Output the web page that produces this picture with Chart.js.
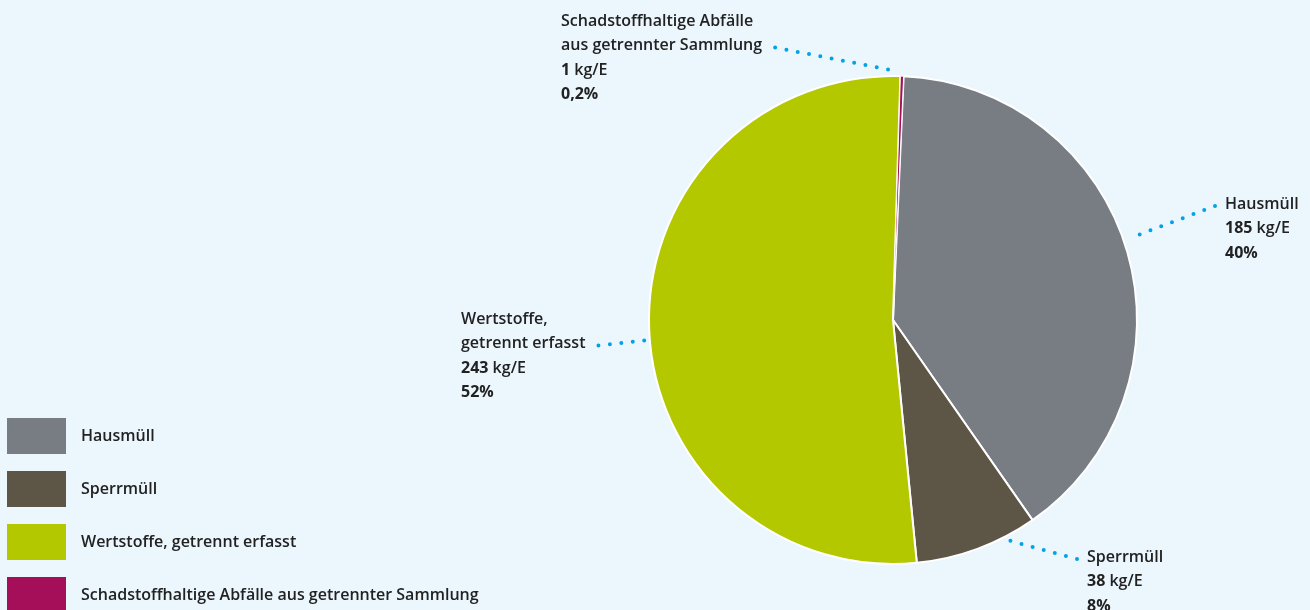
<!DOCTYPE html>
<html>
<head>
<meta charset="utf-8">
<script src="https://cdn.jsdelivr.net/npm/chart.js@4"></script>
<style>
  html, body { margin: 0; padding: 0; background: #ebf6fd; }
  #wrap { width: 1310px; height: 610px; position: relative; overflow: hidden; }
</style>
</head>
<body>
<div id="wrap"><canvas id="chartAbfall" width="1310" height="610"></canvas></div>
<script>
const kategorien = ['Hausmüll', 'Sperrmüll', 'Wertstoffe, getrennt erfasst', 'Schadstoffhaltige Abfälle aus getrennter Sammlung'];
const mengen = [185, 38, 243, 1];           // kg/E
const anteile = ['40%', '8%', '52%', '0,2%'];
const titelZeilen = [
  ['Hausmüll'],
  ['Sperrmüll'],
  ['Wertstoffe,', 'getrennt erfasst'],
  ['Schadstoffhaltige Abfälle', 'aus getrennter Sammlung']
];
const farben = ['#787c83', '#5d5545', '#b4c800', '#a50f5a'];

// Beschriftung: Textposition, Ankerwinkel am Kreis (Grad, 0 = oben) und Zeile der Führungslinie
const beschriftung = [
  { x: 1225, y: 204, winkel: 70.9, abstand: 12, linie: 0, seite: 'links' },
  { x: 1087, y: 557, winkel: 153.3, abstand: 1, linie: 0, seite: 'links' },
  { x: 461, y: 319, winkel: 265.3, abstand: 1, linie: 1, seite: 'rechts' },
  { x: 561, y: 21, winkel: 359.6, abstand: 6, linie: 1, seite: 'rechts' }
];

const ZEILE = 24.5;
const FONT_TEXT = '600 16px "Open Sans"';
const FONT_ZAHL = '700 16px "Open Sans"';
const TEXTFARBE = '#222222';
const PUNKTFARBE = '#00a3e8';

function punktLinie(ctx, x1, y1, x2, y2) {
  ctx.save();
  ctx.strokeStyle = PUNKTFARBE;
  ctx.lineWidth = 4;
  ctx.lineCap = 'round';
  ctx.setLineDash([0, 11.5]);
  ctx.beginPath();
  ctx.moveTo(x1, y1);
  ctx.lineTo(x2, y2);
  ctx.stroke();
  ctx.restore();
}

const beschriftungPlugin = {
  id: 'beschriftung',
  afterDraw(chart) {
    const ctx = chart.ctx;
    const meta = chart.getDatasetMeta(0);
    const arc0 = meta.data[0];
    const cx = arc0.x, cy = arc0.y, r = arc0.outerRadius;

    ctx.save();
    ctx.textBaseline = 'middle';
    ctx.textAlign = 'left';

    beschriftung.forEach((b, i) => {
      const zeilen = titelZeilen[i];
      let y = b.y;
      let linienEnde = null;

      zeilen.forEach((z, k) => {
        ctx.font = FONT_TEXT;
        ctx.fillStyle = TEXTFARBE;
        ctx.fillText(z, b.x, y);
        if (k === b.linie) {
          const w = ctx.measureText(z).width;
          linienEnde = b.seite === 'links' ? [b.x - 10, y + 2] : [b.x + w + 13, y + 2];
        }
        y += ZEILE;
      });

      // Menge
      ctx.font = FONT_ZAHL;
      const zahl = String(mengen[i]);
      ctx.fillText(zahl, b.x, y);
      const zw = ctx.measureText(zahl).width;
      ctx.font = FONT_TEXT;
      ctx.fillText(' kg/E', b.x + zw, y);
      y += ZEILE;

      // Anteil
      ctx.font = FONT_ZAHL;
      ctx.fillText(anteile[i], b.x, y);

      // Führungslinie vom Kreisrand
      const a = (b.winkel - 90) * Math.PI / 180;
      const rr = r + b.abstand;
      const ax = cx + Math.cos(a) * rr;
      const ay = cy + Math.sin(a) * rr;
      punktLinie(ctx, linienEnde[0], linienEnde[1], ax, ay);
    });

    // Legende
    chart.data.labels.forEach((lab, i) => {
      const top = 418 + i * 53;
      ctx.fillStyle = chart.data.datasets[0].backgroundColor[i];
      ctx.fillRect(7, top, 59, 36);
      ctx.font = FONT_TEXT;
      ctx.fillStyle = TEXTFARBE;
      ctx.fillText(lab, 81, top + 18);
    });
    ctx.restore();
  }
};

new Chart(document.getElementById('chartAbfall'), {
  type: 'pie',
  data: {
    labels: kategorien,
    datasets: [{
      data: mengen,
      backgroundColor: farben,
      borderColor: '#ffffff',
      borderWidth: [2, 2, 2, 1],
      hoverOffset: 0
    }]
  },
  options: {
    responsive: false,
    animation: false,
    rotation: 2.5,
    radius: 244,
    layout: { padding: { left: 649, right: 173, top: 76, bottom: 46 } },
    plugins: {
      legend: { display: false },
      tooltip: { enabled: false }
    }
  },
  plugins: [beschriftungPlugin]
});
</script>
</body>
</html>
